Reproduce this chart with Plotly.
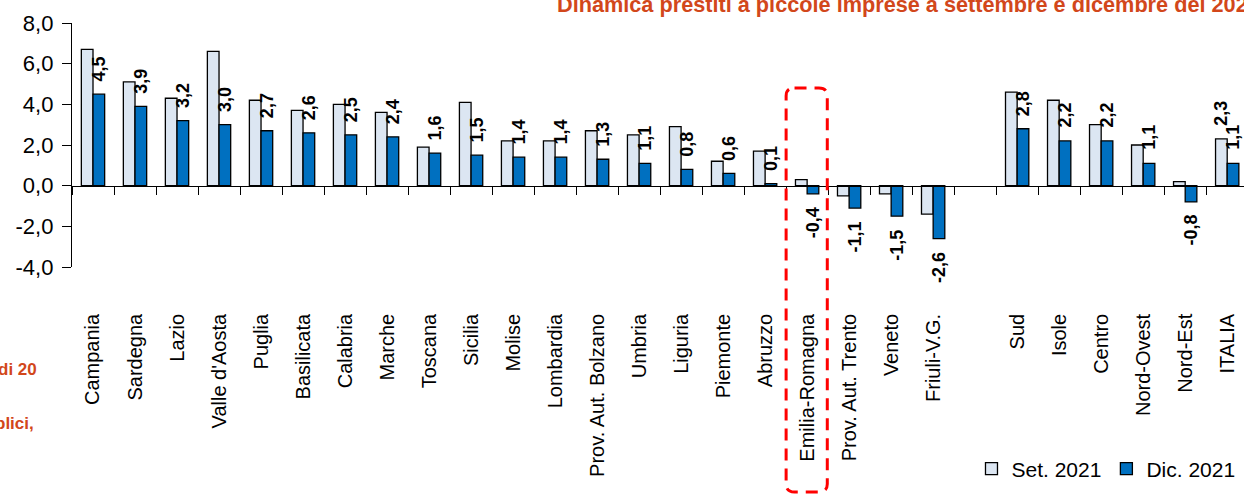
import plotly.graph_objects as go

# ---------------- data ----------------
categories = ["Campania", "Sardegna", "Lazio", "Valle d'Aosta", "Puglia", "Basilicata",
              "Calabria", "Marche", "Toscana", "Sicilia", "Molise", "Lombardia",
              "Prov. Aut. Bolzano", "Umbria", "Liguria", "Piemonte", "Abruzzo",
              "Emilia-Romagna", "Prov. Aut. Trento", "Veneto", "Friuli-V.G.", " ",
              "Sud", "Isole", "Centro", "Nord-Ovest", "Nord-Est", "ITALIA"]
set_2021 = [6.7, 5.1, 4.3, 6.6, 4.2, 3.7, 4.0, 3.6, 1.9, 4.1, 2.2, 2.2, 2.7, 2.5,
            2.9, 1.2, 1.7, 0.3, -0.5, -0.4, -1.4, None, 4.6, 4.2, 3.0, 2.0, 0.2, 2.3]
dic_2021 = [4.5, 3.9, 3.2, 3.0, 2.7, 2.6, 2.5, 2.4, 1.6, 1.5, 1.4, 1.4, 1.3, 1.1,
            0.8, 0.6, 0.1, -0.4, -1.1, -1.5, -2.6, None, 2.8, 2.2, 2.2, 1.1, -0.8, 1.1]
set_labelled = ["ITALIA"]
highlight = "Emilia-Romagna"
y_ticks = [-4, -2, 0, 2, 4, 6, 8]
y_ticktext = [f"{v:.1f}".replace(".", ",") for v in y_ticks]
series_names = ["Set. 2021", "Dic. 2021"]
title_text = "Dinamica prestiti a piccole imprese a settembre e dicembre del 2021"
side_texts = ["di 20", "plici,"]

FONT = "Liberation Sans, Arial, sans-serif"
BARGAP = 0.445
LABEL_GAP = 11


def fmt(v):
    return f"{v:.1f}".replace(".", ",")


fig = go.Figure()
fig.add_trace(go.Bar(
    x=categories, y=set_2021, name=series_names[0],
    marker=dict(color="#DCE6F2", line=dict(color="black", width=1.3)),
))
fig.add_trace(go.Bar(
    x=categories, y=dic_2021, name=series_names[1],
    marker=dict(color="#0070C0", line=dict(color="black", width=1.3)),
))

# value labels (rotated, outside the bar end)
half = (1 - BARGAP) / 4.0


def add_labels(values, offset, only=None):
    for idx, (c, v) in enumerate(zip(categories, values)):
        if v is None or (only is not None and c not in only):
            continue
        pos = v >= 0
        fig.add_annotation(
            x=idx + offset, y=v, xref="x", yref="y", text=fmt(v),
            textangle=-90, showarrow=False, xanchor="center",
            yanchor="bottom" if pos else "top",
            yshift=LABEL_GAP if pos else -LABEL_GAP,
            font=dict(family=FONT, size=18, color="black", weight="bold"),
        )


add_labels(dic_2021, +half)
add_labels(set_2021, -half, only=set_labelled)

# highlight box around Emilia-Romagna (rounded dashed rectangle)
i = categories.index(highlight)
x0, x1 = i - 0.5, i + 0.48
y0, y1 = -0.922, 0.734
rx, ry = 0.2, 0.033
path = (f"M {x0+rx},{y1} L {x1-rx},{y1} Q {x1},{y1} {x1},{y1-ry} "
        f"L {x1},{y0+ry} Q {x1},{y0} {x1-rx},{y0} L {x0+rx},{y0} "
        f"Q {x0},{y0} {x0},{y0+ry} L {x0},{y1-ry} Q {x0},{y1} {x0+rx},{y1} Z")
fig.add_shape(type="path", path=path, xref="x", yref="paper",
              line=dict(color="#FF0000", width=3, dash="12px,8px"),
              fillcolor="rgba(0,0,0,0)", layer="above")

fig.add_annotation(text=title_text, xref="paper", yref="paper",
                   x=0.4125, y=1.016, xanchor="left", yanchor="bottom",
                   showarrow=False,
                   font=dict(family=FONT, size=21.7, color="#D2471B", weight="bold"))
fig.add_annotation(text=side_texts[0], xref="paper", yref="paper",
                   x=-0.0285, y=-0.422, xanchor="right", yanchor="middle",
                   showarrow=False,
                   font=dict(family=FONT, size=17, color="#D2471B", weight="bold"))
fig.add_annotation(text=side_texts[1], xref="paper", yref="paper",
                   x=-0.031, y=-0.643, xanchor="right", yanchor="middle",
                   showarrow=False,
                   font=dict(family=FONT, size=17, color="#D2471B", weight="bold"))

fig.update_layout(
    width=1244, height=494,
    margin=dict(l=72, r=0, t=23, b=227, autoexpand=False),
    paper_bgcolor="white", plot_bgcolor="white",
    barmode="group", bargap=BARGAP, bargroupgap=0,
    font=dict(family=FONT, color="black"),
    showlegend=True,
    legend=dict(orientation="h", x=0.997, xanchor="right", y=-0.828, yanchor="middle",
                font=dict(family=FONT, size=21, color="black"),
                bgcolor="rgba(0,0,0,0)", itemwidth=30),
    xaxis=dict(type="category", range=[-0.5, 27.4], anchor="free", position=1/3,
               showline=True, linecolor="black", linewidth=1.3,
               ticks="outside", tickson="boundaries", ticklen=8, tickcolor="black",
               tickwidth=1.3, tickangle=-90, ticklabelstandoff=119,
               tickfont=dict(family=FONT, size=20, color="black"),
               showgrid=False, zeroline=False, fixedrange=True),
    yaxis=dict(range=[-4, 8], tickvals=y_ticks, ticktext=y_ticktext,
               showline=True, linecolor="black", linewidth=1.3,
               ticks="outside", ticklen=9, tickcolor="black", tickwidth=1.3,
               ticklabelstandoff=4,
               tickfont=dict(family=FONT, size=22, color="black"),
               showgrid=False, zeroline=False, fixedrange=True),
)

fig.write_html("out.html", config={"displayModeBar": False},
               post_script="document.body.style.margin='0';")
